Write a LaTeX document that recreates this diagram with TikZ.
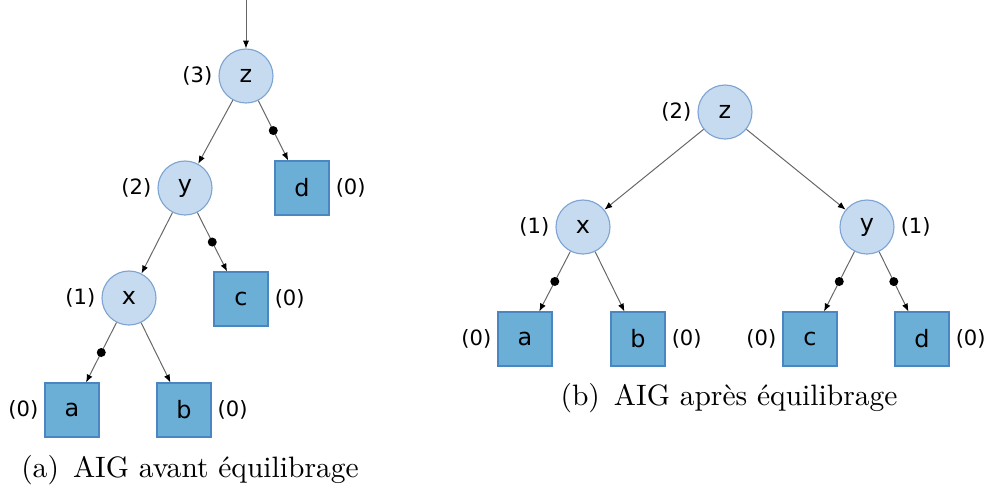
\documentclass[tikz,border=0pt]{standalone}
\usepackage{fontspec}
\newfontfamily\gatefont{DejaVu Sans}
\usetikzlibrary{arrows.meta}

\definecolor{gatefill}{RGB}{198,219,239}
\definecolor{gateedge}{RGB}{125,164,212}
\definecolor{leaffill}{RGB}{107,174,214}
\definecolor{leafedge}{RGB}{74,134,194}

\begin{document}
\begin{tikzpicture}[x=0.125mm, y=-0.125mm,
  gate/.style={circle, draw=gateedge, fill=gatefill, line width=0.4pt,
    minimum size=6.75mm, inner sep=0pt, font=\gatefont\fontsize{8.5}{10}\selectfont},
  leaf/.style={rectangle, draw=leafedge, fill=leaffill, line width=0.4pt,
    minimum size=6.75mm, inner sep=0pt, font=\gatefont\fontsize{8.5}{10}\selectfont},
  lvl/.style={font=\gatefont\fontsize{7.5}{9}\selectfont, inner sep=2pt},
  edge/.style={draw=black!60, line width=0.35pt, -{Latex[length=2.8pt,width=2.2pt,black]}},
  neg/.style={circle, fill=black, inner sep=0pt, minimum size=3.2pt, midway},
  caption/.style={font=\fontsize{10.5}{12}\selectfont}]
\useasboundingbox (0,0) rectangle (992,492);

% (a) before balancing
\coordinate (root) at (246,0);
\node[gate] (z1) at (246,76) {z};
\node[gate] (y1) at (185,188) {y};
\node[gate] (x1) at (129,298) {x};
\node[leaf] (d1) at (302,188) {d};
\node[leaf] (c1) at (241,299) {c};
\node[leaf] (a1) at (72,410) {a};
\node[leaf] (b1) at (184,410) {b};

\node[lvl, left] (lz1) at (z1.west) {(3)};
\node[lvl, left] (ly1) at (y1.west) {(2)};
\node[lvl, left] (lx1) at (x1.west) {(1)};
\node[lvl, right] (ld1) at (d1.east) {(0)};
\node[lvl, right] (lc1) at (c1.east) {(0)};
\node[lvl, left] (la1) at (a1.west) {(0)};
\node[lvl, right] (lb1) at (b1.east) {(0)};

\draw[edge] (root) -- (z1);
\draw[edge] (z1) -- (y1);
\draw[edge] (z1) -- node[neg] (nd1) {} (d1);
\draw[edge] (y1) -- (x1);
\draw[edge] (y1) -- node[neg] (nc1) {} (c1);
\draw[edge] (x1) -- node[neg] (na1) {} (a1);
\draw[edge] (x1) -- (b1);

\node[caption] (capA) at (190,470) {(a)\hspace{5pt}AIG avant équilibrage};

% (b) after balancing
\node[gate] (z2) at (725,112) {z};
\node[gate] (x2) at (583,227) {x};
\node[gate] (y2) at (867,227) {y};
\node[leaf] (a2) at (525,339) {a};
\node[leaf] (b2) at (638,339) {b};
\node[leaf] (c2) at (810,339) {c};
\node[leaf] (d2) at (922,339) {d};

\node[lvl, left] (lz2) at (z2.west) {(2)};
\node[lvl, left] (lx2) at (x2.west) {(1)};
\node[lvl, right] (ly2) at (y2.east) {(1)};
\node[lvl, left] (la2) at (a2.west) {(0)};
\node[lvl, right] (lb2) at (b2.east) {(0)};
\node[lvl, left] (lc2) at (c2.west) {(0)};
\node[lvl, right] (ld2) at (d2.east) {(0)};

\draw[edge] (z2) -- (x2);
\draw[edge] (z2) -- (y2);
\draw[edge] (x2) -- node[neg] (na2) {} (a2);
\draw[edge] (x2) -- (b2);
\draw[edge] (y2) -- node[neg] (nc2) {} (c2);
\draw[edge] (y2) -- node[neg] (nd2) {} (d2);

\node[caption] (capB) at (729,398) {(b)\hspace{5pt}AIG après équilibrage};
\end{tikzpicture}
\end{document}
